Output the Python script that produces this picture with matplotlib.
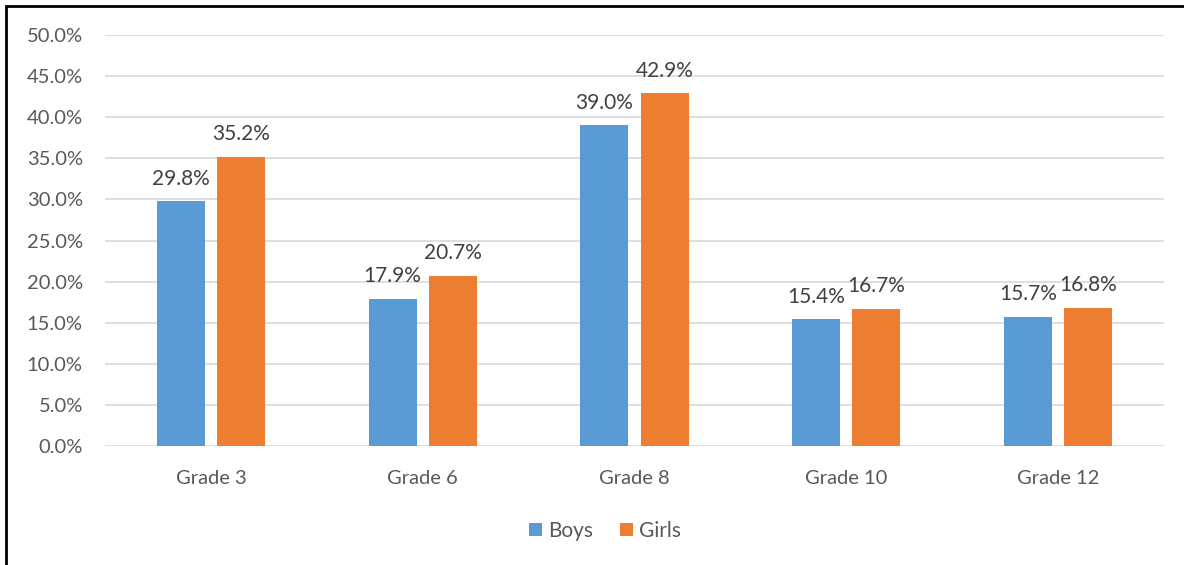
import matplotlib.pyplot as plt
from matplotlib.patches import Rectangle
import numpy as np

plt.rcParams['font.family'] = ['Lato', 'DejaVu Sans']

grades = ["Grade 3", "Grade 6", "Grade 8", "Grade 10", "Grade 12"]
boys = [29.8, 17.9, 39.0, 15.4, 15.7]
girls = [35.2, 20.7, 42.9, 16.7, 16.8]

blue = "#5B9BD5"
orange = "#ED7D31"
txt = "#595959"

fig = plt.figure(figsize=(11.84, 5.65), dpi=100)
ax = fig.add_axes([0.0887, 0.2106, 0.8944, 0.7274])

x = np.arange(len(grades))
w = 0.227
off = 0.142
b1 = ax.bar(x - off, boys, w, color=blue, label="Boys", zorder=3)
b2 = ax.bar(x + off, girls, w, color=orange, label="Girls", zorder=3)

for bars, vals in ((b1, boys), (b2, girls)):
    for r, v in zip(bars, vals):
        ax.annotate(f"{v:.1f}%", (r.get_x() + r.get_width() / 2, v),
                    xytext=(0, 9), textcoords="offset points",
                    ha="center", va="bottom", fontsize=15, color="#404040")

ax.set_xlim(-0.5, len(grades) - 0.5)
ax.set_ylim(0, 50)
ax.set_yticks(np.arange(0, 50.1, 5))
ax.set_yticklabels([f"{t:.1f}%" for t in np.arange(0, 50.1, 5)])
ax.set_xticks(x)
ax.set_xticklabels(grades)
ax.tick_params(axis="both", length=0, labelsize=14.5, labelcolor=txt)
ax.tick_params(axis="y", pad=16)
ax.tick_params(axis="x", pad=17)
ax.grid(axis="y", color="#D9D9D9", linewidth=1.2, zorder=0)
for s in ax.spines.values():
    s.set_visible(False)

leg = fig.legend(handles=[b1, b2], loc="center", bbox_to_anchor=(0.511, 0.06),
                 ncol=2, frameon=False, fontsize=15, handlelength=0.6,
                 handleheight=0.6, handletextpad=0.3, columnspacing=1.3)
for t in leg.get_texts():
    t.set_color(txt)

fig.patches.append(Rectangle((6 / 1184, -0.05), 1.1, 1.05 - 6 / 565,
                             transform=fig.transFigure, fill=False,
                             edgecolor="black", linewidth=2, zorder=10))

fig.savefig("out.png", dpi=100)
